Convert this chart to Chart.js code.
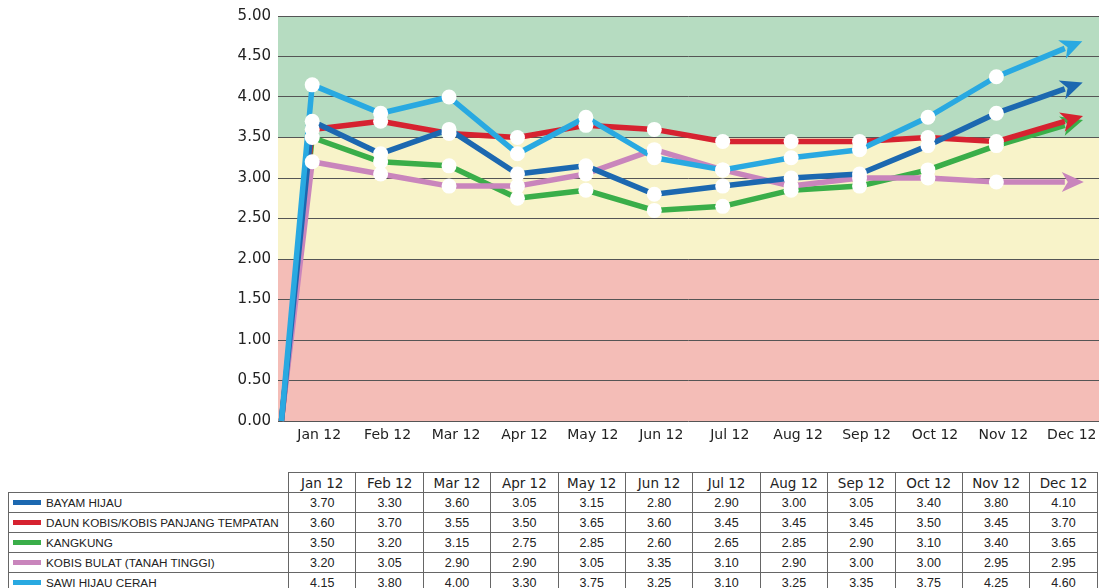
<!DOCTYPE html>
<html>
<head>
<meta charset="utf-8">
<script src="https://cdn.jsdelivr.net/npm/chart.js@4/dist/chart.umd.min.js"></script>
<style>
  html, body { margin: 0; padding: 0; background: #fff; width: 1099px; height: 588px; overflow: hidden; }
  #wrap { position: absolute; left: 0; top: 0; width: 1099px; height: 450px; }
  #tbl { position: absolute; left: 8px; top: 472px; border-collapse: collapse; table-layout: fixed; width: 1089px; }
  #tbl td, #tbl th { border: 1px solid #666; padding: 0; height: 19px; font-weight: normal; color: #222; white-space: nowrap; overflow: hidden; }
  #tbl th { font-family: "DejaVu Sans", sans-serif; font-size: 13.5px; text-align: center; }
  #tbl th.empty { border-top: none; border-left: none; }
  #tbl td.num { font-family: "Liberation Sans", Arial, sans-serif; font-size: 12.5px; text-align: center; }
  #tbl td.name { font-family: "Liberation Sans", Arial, sans-serif; font-size: 11.7px; text-align: left; padding-left: 4px; }
  .sw { display: inline-block; width: 28px; height: 5px; vertical-align: middle; margin-right: 5px; position: relative; top: -1px; }
</style>
</head>
<body>
<div id="wrap"><canvas id="c" width="1099" height="450"></canvas></div>
<table id="tbl"></table>
<script>
// ---- data ----
const months = ['Jan 12','Feb 12','Mar 12','Apr 12','May 12','Jun 12','Jul 12','Aug 12','Sep 12','Oct 12','Nov 12','Dec 12'];
const seriesNames = ['BAYAM HIJAU','DAUN KOBIS/KOBIS PANJANG TEMPATAN','KANGKUNG','KOBIS BULAT (TANAH TINGGI)','SAWI HIJAU CERAH'];
const bayamHijau   = [3.70,3.30,3.60,3.05,3.15,2.80,2.90,3.00,3.05,3.40,3.80,4.10];
const daunKobis    = [3.60,3.70,3.55,3.50,3.65,3.60,3.45,3.45,3.45,3.50,3.45,3.70];
const kangkung     = [3.50,3.20,3.15,2.75,2.85,2.60,2.65,2.85,2.90,3.10,3.40,3.65];
const kobisBulat   = [3.20,3.05,2.90,2.90,3.05,3.35,3.10,2.90,3.00,3.00,2.95,2.95];
const sawiHijau    = [4.15,3.80,4.00,3.30,3.75,3.25,3.10,3.25,3.35,3.75,4.25,4.60];
const startValue = 0;           // lines rise from 0.00 at the axis
const yTicks = [0,0.5,1,1.5,2,2.5,3,3.5,4,4.5,5];
const bandLimits = [0, 2, 3.5, 5];   // red / yellow / green zones

// ---- styles ----
const colors = ['#1c68b0','#d62230','#3aae49','#c985bc','#29a9e1'];
const bandColors = ['#f4bdb7','#f8f3c9','#b6dcc1'];
const zOrder = [1,3,4,2,0];
const allSeries = [bayamHijau, daunKobis, kangkung, kobisBulat, sawiHijau];
const startX = -0.45;

const datasets = [];
allSeries.forEach((vals, s) => {
  const pts = [{x: startX, y: startValue}].concat(vals.map((v, i) => ({x: i, y: v})));
  datasets.push({
    label: seriesNames[s], data: pts, borderColor: colors[s], backgroundColor: colors[s],
    borderWidth: 5.5, pointRadius: 0, pointHoverRadius: 0, tension: 0, fill: false,
    borderJoinStyle: 'round', order: zOrder[s] + 1, isArrowLine: true, clip: 10
  });
});
allSeries.forEach((vals, s) => {
  const pts = vals.slice(0, vals.length - 1).map((v, i) => ({x: i, y: v}));
  datasets.push({
    label: 'marker' + s, data: pts, showLine: false, pointRadius: 7.5, pointHoverRadius: 7.5,
    pointBackgroundColor: '#ffffff', pointBorderWidth: 0, pointBorderColor: '#ffffff', order: -1, clip: 10
  });
});

const bandPlugin = {
  id: 'bands',
  beforeDraw(chart) {
    const {ctx, chartArea: a, scales: {y}} = chart;
    ctx.save();
    for (let i = 0; i < bandLimits.length - 1; i++) {
      const top = y.getPixelForValue(bandLimits[i + 1]);
      const bot = y.getPixelForValue(bandLimits[i]);
      ctx.fillStyle = bandColors[i];
      ctx.fillRect(a.left, top, a.right - a.left, bot - top);
    }
    ctx.restore();
  }
};

const arrowPlugin = {
  id: 'arrows',
  afterDatasetDraw(chart, args) {
    const ds = chart.data.datasets[args.index];
    if (!ds.isArrowLine) return;
    const pts = args.meta.data;
    const p1 = pts[pts.length - 2], p2 = pts[pts.length - 1];
    const dx = p2.x - p1.x, dy = p2.y - p1.y;
    const len = Math.hypot(dx, dy);
    const ux = dx / len, uy = dy / len, nx = -uy, ny = ux;
    const ctx = chart.ctx;
    const back = -3, tip = 19, notch = 3, half = 10;
    ctx.save();
    ctx.fillStyle = ds.borderColor;
    ctx.beginPath();
    ctx.moveTo(p2.x + ux * tip, p2.y + uy * tip);
    ctx.lineTo(p2.x + ux * back + nx * half, p2.y + uy * back + ny * half);
    ctx.lineTo(p2.x + ux * notch, p2.y + uy * notch);
    ctx.lineTo(p2.x + ux * back - nx * half, p2.y + uy * back - ny * half);
    ctx.closePath();
    ctx.fill();
    ctx.restore();
  }
};

new Chart(document.getElementById('c'), {
  type: 'line',
  data: { datasets },
  plugins: [bandPlugin, arrowPlugin],
  options: {
    responsive: false, animation: false, devicePixelRatio: 1,
    layout: { autoPadding: false, padding: { top: 16, right: 0, bottom: 0, left: 0 } },
    plugins: { legend: { display: false }, tooltip: { enabled: false } },
    events: [],
    scales: {
      x: {
        type: 'linear', min: -0.5, max: 11.5,
        afterBuildTicks(scale) { scale.ticks = months.map((m, i) => ({value: i})); },
        afterFit(scale) { scale.height = 29; scale.paddingRight = 0; scale.paddingLeft = 0; },
        grid: { display: false, drawTicks: false },
        border: { display: false },
        ticks: {
          callback: (v) => months[v] !== undefined ? months[v] : '',
          font: { family: 'DejaVu Sans', size: 14 }, color: '#222', padding: 6, labelOffset: 7,
          maxRotation: 0, autoSkip: false
        }
      },
      y: {
        min: 0, max: 5,
        afterBuildTicks(scale) { scale.ticks = yTicks.map(v => ({value: v})); },
        afterFit(scale) { scale.width = 278; },
        grid: { color: '#555', lineWidth: 1, drawTicks: false },
        border: { display: false },
        ticks: {
          callback: (v) => Number(v).toFixed(2),
          font: { family: 'DejaVu Sans', size: 15 }, color: '#222', padding: 7
        }
      }
    }
  }
});

// ---- table ----
const tbl = document.getElementById('tbl');
let html = '<colgroup><col style="width:280px">' + months.map(() => '<col style="width:67.4px">').join('') + '</colgroup>';
html += '<tr><th class="empty"></th>' + months.map(m => '<th>' + m + '</th>').join('') + '</tr>';
allSeries.forEach((vals, s) => {
  html += '<tr><td class="name"><span class="sw" style="background:' + colors[s] + '"></span>' + seriesNames[s] + '</td>' +
    vals.map(v => '<td class="num">' + v.toFixed(2) + '</td>').join('') + '</tr>';
});
tbl.innerHTML = html;
</script>
</body>
</html>
